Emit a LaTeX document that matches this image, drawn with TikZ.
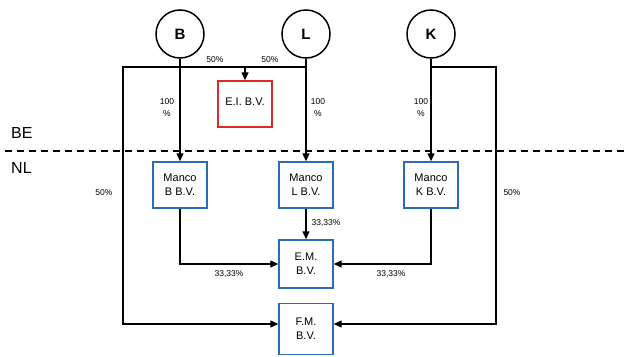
\documentclass[tikz,border=0pt]{standalone}
\usepackage{fontspec}
\setmainfont{Liberation Sans}
\usetikzlibrary{arrows.meta}
\definecolor{boxblue}{HTML}{2B6CB8}
\definecolor{boxred}{HTML}{D92A2E}
\begin{document}
\begin{tikzpicture}[x=1pt,y=-1pt,
  person/.style={circle, draw, line width=1.5pt, minimum size=48pt, inner sep=0pt, font=\fontsize{15}{18}\selectfont\bfseries},
  ent/.style={draw=boxblue, line width=1.4pt, minimum width=54pt, minimum height=46pt, align=center, inner sep=0pt, font=\fontsize{11}{14}\selectfont},
  redent/.style={ent, draw=boxred},
  pct/.style={font=\fontsize{8.5}{10}\selectfont, align=center, inner sep=0pt},
  country/.style={font=\fontsize{16}{18}\selectfont, inner sep=0pt},
  conn/.style={line width=1.3pt},
  arr/.style={conn, -{Triangle[length=8pt,width=7pt]}}
]
\useasboundingbox (0,0) rectangle (629,356);
% persons
\node[person] (B) at (180,34) {B};
\node[person] (L) at (306,34) {L};
\node[person] (K) at (431,34) {K};
% entities
\node[redent] (EI) at (245,104) {\raisebox{4pt}{E.I. B.V.}};
\node[ent] (MB) at (180,185) {Manco\\B B.V.};
\node[ent] (ML) at (306,185) {Manco\\L B.V.};
\node[ent] (MK) at (431,185) {Manco\\K B.V.};
\node[ent, minimum height=48pt] (EM) at (306,264) {E.M.\\B.V.};
\node[ent, minimum height=51pt] (FM) at (306,329) {F.M.\\B.V.};
% corner coordinates
\coordinate (TL) at (123,67);
\coordinate (TR) at (496,67);
% border line
\draw[line width=1.6pt, dash pattern=on 7pt off 5pt] (5,151) coordinate (D1) -- (629,151) coordinate (D2);
\node[country, anchor=west] (BE) at (11,133) {BE};
\node[country, anchor=west] (NL) at (11,168) {NL};
% connectors
\draw[arr] (B) -- (MB);
\draw[arr] (L) -- (ML);
\draw[arr] (K) -- (MK);
\draw[arr] (L |- TL) -- (TL) |- ([yshift=5pt]FM.west);
\draw[arr] (K |- TR) -- (TR) |- ([yshift=5pt]FM.east);
\draw[arr] (EI.north |- TL) -- (EI.north);
\draw[arr] (MB) |- (EM.west);
\draw[arr] (MK) |- (EM.east);
\draw[arr] (ML) -- (EM);
% labels
\node[pct] (p1) at (215,60) {50\%};
\node[pct] (p2) at (270,60) {50\%};
\node[pct] (p3) at (167,108) {100\\[2pt]\%};
\node[pct] (p4) at (318,108) {100\\[2pt]\%};
\node[pct] (p5) at (421,108) {100\\[2pt]\%};
\node[pct] (p6) at (104,193) {50\%};
\node[pct] (p7) at (512,193) {50\%};
\node[pct] (p8) at (326,223) {33,33\%};
\node[pct] (p9) at (229,274) {33,33\%};
\node[pct] (p10) at (391,274) {33,33\%};
\end{tikzpicture}
\end{document}
